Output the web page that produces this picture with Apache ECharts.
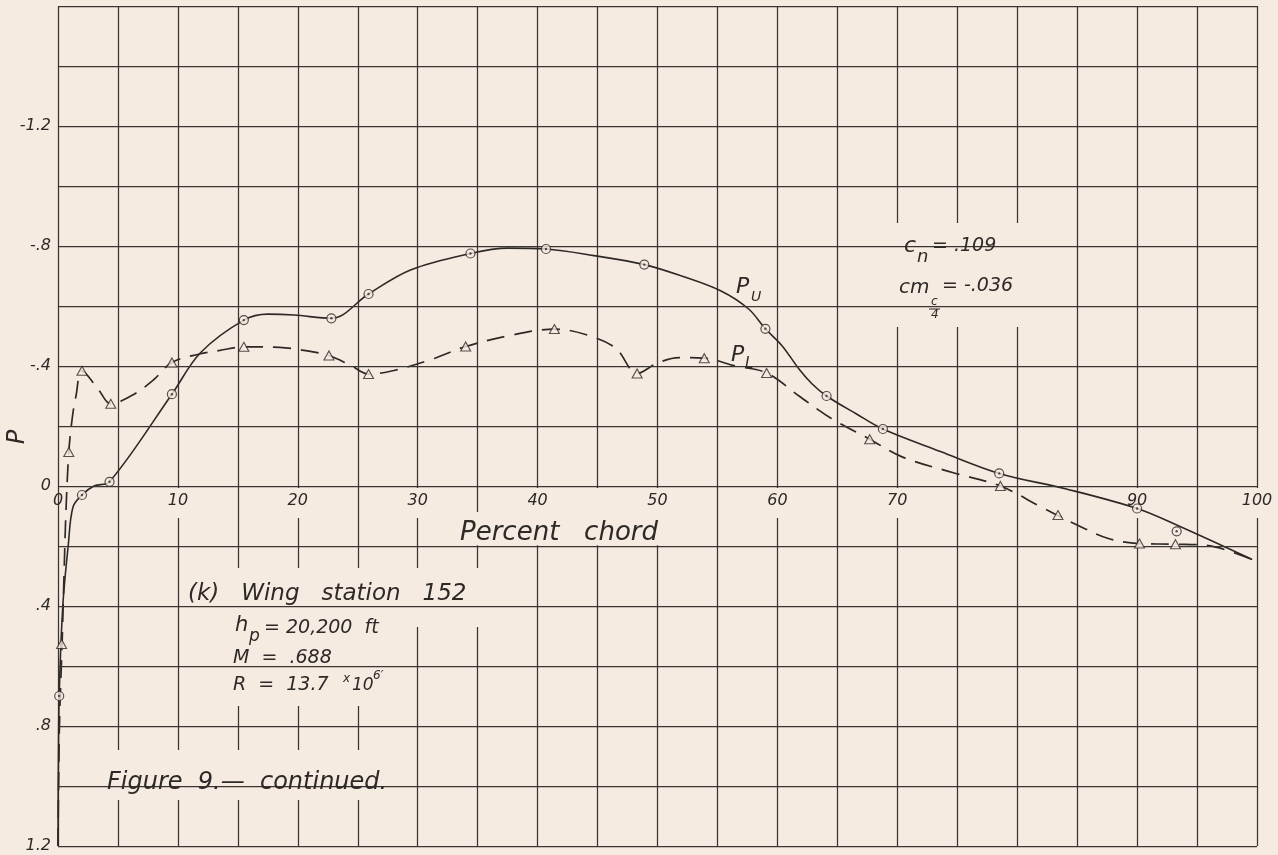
<!DOCTYPE html>
<html>
<head>
<meta charset="utf-8">
<title>Pressure distribution, wing station 152</title>
<script src="https://cdn.jsdelivr.net/npm/echarts@6/dist/echarts.min.js"></script>
<style>
  html, body { margin: 0; padding: 0; background: #f6ebe1; }
  #chart { width: 1278px; height: 855px; }
</style>
</head>
<body>
<div id="chart"></div>
<script>
// Axis ticks and their printed labels (80 is left unlabelled on the sheet)
const xTickValues = [0, 10, 20, 30, 40, 50, 60, 70, 90, 100];
const xTickText = ['0', '10', '20', '30', '40', '50', '60', '70', '90', '100'];
const yTickValues = [-1.2, -0.8, -0.4, 0, 0.4, 0.8, 1.2];
const yTickText = ['-1.2', '-.8', '-.4', '0', '.4', '.8', '1.2'];

// Measured orifice values: [percent chord, P]
const upperPoints = [
  [0.1, 0.70], [2.0, 0.03], [4.3, -0.014], [9.5, -0.306], [15.5, -0.553],
  [22.8, -0.559], [25.9, -0.64], [34.4, -0.775], [40.7, -0.79], [48.9, -0.738],
  [59.0, -0.524], [64.1, -0.30], [68.8, -0.19], [78.5, -0.042], [90.0, 0.075],
  [93.3, 0.151]
];
const lowerPoints = [
  [0.3, 0.527], [0.9, -0.113], [2.0, -0.384], [4.4, -0.274], [9.5, -0.412],
  [15.5, -0.464], [22.6, -0.435], [25.9, -0.373], [34.0, -0.465], [41.4, -0.523],
  [48.3, -0.375], [53.9, -0.426], [59.1, -0.377], [67.7, -0.156], [78.6, 0.0],
  [83.4, 0.097], [90.2, 0.192], [93.2, 0.194]
];

// Faired curves through the measurements
const upperCurve = [
  [0, 1.2], [0.03, 0.95], [0.1, 0.70], [0.4, 0.40], [0.85, 0.20], [1.25, 0.07],
  [2.0, 0.03], [3.0, 0.0], [4.3, -0.014], [9.5, -0.306], [11.9, -0.445],
  [15.5, -0.553], [17.5, -0.573], [19.7, -0.57], [22.8, -0.559], [25.9, -0.64],
  [29.4, -0.72], [34.4, -0.775], [37.5, -0.793], [40.7, -0.79], [44.7, -0.768],
  [48.9, -0.738], [52.0, -0.70], [55.3, -0.65], [57.6, -0.59], [59.0, -0.524],
  [60.4, -0.467], [61.8, -0.39], [62.9, -0.34], [64.1, -0.30], [66.6, -0.24],
  [68.8, -0.19], [73.6, -0.115], [78.5, -0.042], [84.1, 0.01], [90.0, 0.075],
  [93.3, 0.13], [99.6, 0.245]
];
const lowerCurve = [
  [0, 1.2], [0.12, 0.80], [0.34, 0.527], [0.5, 0.30], [0.65, 0.10], [0.9, -0.113],
  [1.2, -0.23], [1.5, -0.30], [2.0, -0.384], [3.4, -0.32], [4.4, -0.274],
  [6.3, -0.305], [8.0, -0.355], [9.5, -0.412], [11.8, -0.44], [13.5, -0.452],
  [15.5, -0.464], [18.5, -0.462], [20.5, -0.452], [22.6, -0.435], [24.5, -0.40],
  [25.9, -0.373], [28.0, -0.385], [31.0, -0.42], [34.0, -0.465], [37.5, -0.50],
  [41.4, -0.523], [44.0, -0.505], [46.5, -0.46], [48.3, -0.375], [50.0, -0.41],
  [51.8, -0.428], [53.9, -0.426], [56.5, -0.40], [59.1, -0.377], [61.8, -0.30],
  [64.5, -0.225], [67.7, -0.156], [70.4, -0.097], [74.6, -0.045], [78.6, 0.0],
  [82.0, 0.07], [85.0, 0.13], [87.6, 0.175], [90.2, 0.192], [93.2, 0.194],
  [95.8, 0.198], [99.6, 0.245]
];

const PAPER = '#f6ebe1';
const INK = '#2d2926';
const GRID_INK = '#3a3531';
const FONT = '"DejaVu Sans", "Liberation Sans", sans-serif';

// Plot frame in pixels; the upper frame ends on the P = 0 line so that
// the chord axis and its figures sit along zero.
const FRAME = { left: 58, right: 21, top: 6, bottom: 9 };
const ZERO_Y = 486;

function lookup(values, texts, v) {
  for (let i = 0; i < values.length; i++) {
    if (Math.abs(values[i] - v) < 1e-6) return texts[i];
  }
  return '';
}

// Paper-coloured patches where the ruled grid is left open for lettering
function gap(x, y, w, h) {
  return { type: 'rect', z: 1, silent: true, shape: { x: x, y: y, width: w, height: h },
           style: { fill: PAPER } };
}
function txt(str, x, y, size, align) {
  return {
    type: 'text', z: 10, silent: true, x: x, y: y,
    style: { text: str, fill: INK, font: 'italic ' + size + 'px ' + FONT,
             textAlign: align || 'left', textVerticalAlign: 'middle' }
  };
}

const xLabelGaps = xTickValues.filter(v => v > 0).map(v => {
  const cx = 58 + v * 11.99;
  const half = v === 100 ? 19 : 14;
  return gap(cx - half, 488, half * 2, 30);
});

const graphics = [].concat(xLabelGaps, [
  gap(44, 489, 13, 24),            // origin figure
  gap(452, 512, 216, 33.3),        // Percent chord
  gap(520, 488, 148, 26),
  gap(885, 223, 143, 104),         // coefficient box
  gap(181, 568, 315, 59),          // (k) Wing station 152
  gap(213, 627, 197, 79),          // hp, M, R
  gap(92, 750, 322, 50),           // Figure caption

  txt('Percent   chord', 559, 533, 26, 'center'),

  txt('(k)   Wing   station   152', 188, 594, 23),
  txt('h', 235, 626, 21),
  txt('p', 249, 637, 17),
  txt('= 20,200  ft', 264, 628, 19),
  txt('M  =  .688', 233, 658, 19),
  txt('R  =  13.7', 233, 685, 19),
  txt('x', 343, 679, 12),
  txt('10', 352, 686, 17),
  txt('6\u2032', 373, 676, 12),
  txt('Figure  9.\u2014  continued.', 107, 783, 24),

  txt('c', 904, 246, 22),
  txt('n', 917, 257, 18),
  txt('= .109', 932, 246, 19),
  txt('cm', 899, 288, 20),
  txt('c', 931, 302, 12),
  { type: 'line', z: 10, silent: true, shape: { x1: 929, y1: 309, x2: 940, y2: 309 },
    style: { stroke: INK, lineWidth: 1 } },
  txt('4', 931, 315, 12),
  txt('= -.036', 942, 286, 19),

  txt('P', 736, 287, 22),
  txt('U', 751, 297, 14),
  txt('P', 731, 355, 22),
  txt('L', 745, 364, 15),

  { type: 'text', z: 10, silent: true, x: 18, y: 437, rotation: Math.PI / 2,
    style: { text: 'P', fill: INK, font: 'italic 24px ' + FONT,
             textAlign: 'center', textVerticalAlign: 'middle' } }
]);

const chart = echarts.init(document.getElementById('chart'), null, { renderer: 'canvas' });

const ruled = { show: true, lineStyle: { color: GRID_INK, width: 1.25 } };
const tickFont = { color: INK, fontSize: 16, fontStyle: 'italic', fontFamily: FONT };

chart.setOption({
  backgroundColor: PAPER,
  animation: false,
  grid: [
    { left: FRAME.left, right: FRAME.right, top: FRAME.top, bottom: FRAME.bottom, show: false },
    { left: FRAME.left, right: FRAME.right, top: FRAME.top, height: ZERO_Y - FRAME.top, show: false }
  ],
  xAxis: [
    { gridIndex: 0, type: 'value', min: 0, max: 100, interval: 5, z: 0,
      axisLine: { show: false, onZero: false }, axisTick: { show: false },
      axisLabel: { show: false }, splitLine: ruled },
    { gridIndex: 1, type: 'value', min: 0, max: 100, interval: 5, z: 3, position: 'bottom',
      axisLine: { show: false, onZero: false }, axisTick: { show: false },
      splitLine: { show: false },
      axisLabel: Object.assign({ show: true, margin: 7,
                   formatter: v => lookup(xTickValues, xTickText, v) }, tickFont) }
  ],
  yAxis: [
    { gridIndex: 0, type: 'value', inverse: true, min: -1.6, max: 1.2, interval: 0.2, z: 3,
      axisLine: { show: false, onZero: false }, axisTick: { show: false },
      axisLabel: Object.assign({ show: true, margin: 7,
                   formatter: v => lookup(yTickValues, yTickText, v) }, tickFont),
      splitLine: ruled },
    { gridIndex: 1, type: 'value', inverse: true, min: -1.6, max: 0, show: false,
      axisLine: { onZero: false } }
  ],
  graphic: { elements: graphics },
  series: [
    { name: 'P_U curve', type: 'line', data: upperCurve, smooth: 0.35, symbol: 'none',
      z: 2, lineStyle: { color: INK, width: 1.6 } },
    { name: 'P_L curve', type: 'line', data: lowerCurve, smooth: 0.35, symbol: 'none',
      z: 2, lineStyle: { color: INK, width: 1.7, type: [18, 10] } },
    { name: 'P_U', type: 'scatter', data: upperPoints, symbol: 'circle', symbolSize: 9,
      z: 4, itemStyle: { color: PAPER, borderColor: INK, borderWidth: 1.2 } },
    { name: 'P_U centre', type: 'scatter', data: upperPoints, symbol: 'circle', symbolSize: 2.4,
      z: 5, itemStyle: { color: INK } },
    { name: 'P_L', type: 'scatter', data: lowerPoints, symbol: 'triangle', symbolSize: [10, 9],
      z: 4, itemStyle: { color: PAPER, borderColor: INK, borderWidth: 1.1 } }
  ]
});
</script>
</body>
</html>
